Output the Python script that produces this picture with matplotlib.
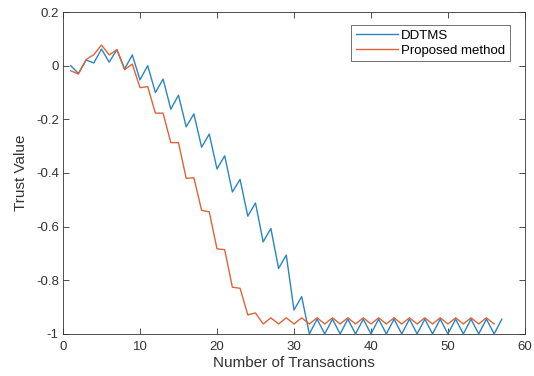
import numpy as np
import matplotlib
matplotlib.use("Agg")
import matplotlib.pyplot as plt

plt.rcParams['font.family'] = ['Liberation Sans', 'DejaVu Sans']

# ---------------- data ----------------
x_ddtms = np.arange(1, 58)
y_ddtms_head = [0, -0.029, 0.021, 0.01, 0.062, 0.013, 0.06, -0.012, 0.04, -0.053,
                0, -0.1, -0.05, -0.162, -0.11, -0.228, -0.18, -0.304, -0.255, -0.385,
                -0.336, -0.471, -0.424, -0.561, -0.512, -0.657, -0.607, -0.756, -0.706, -0.911,
                -0.861]
# from x=32 on: alternates between -1 (even x) and -0.945 (odd x)
y_ddtms_tail = [-1, -0.945, -1, -0.945, -1, -0.945, -1, -0.945, -1, -0.945,
                -1, -0.945, -1, -0.945, -1, -0.945, -1, -0.945, -1, -0.945,
                -1, -0.945, -1, -0.945, -1, -0.945]
y_ddtms = np.array(y_ddtms_head + y_ddtms_tail)

x_prop = np.arange(1, 57)
y_prop_head = [-0.019, -0.031, 0.023, 0.041, 0.077, 0.04, 0.06, -0.015, 0.006, -0.082,
               -0.078, -0.177, -0.177, -0.287, -0.287, -0.42, -0.418, -0.539, -0.545, -0.683,
               -0.686, -0.826, -0.83, -0.929, -0.922]
# from x=26 on: alternates between -0.963 (even x) and -0.94 (odd x)
y_prop_tail = [-0.963, -0.94, -0.963, -0.94, -0.963, -0.94, -0.963, -0.94, -0.963, -0.94,
               -0.963, -0.94, -0.963, -0.94, -0.963, -0.94, -0.963, -0.94, -0.963, -0.94,
               -0.963, -0.94, -0.963, -0.94, -0.963, -0.94, -0.963, -0.94, -0.963, -0.94,
               -0.963]
y_prop = np.array(y_prop_head + y_prop_tail)

# ---------------- plot ----------------
fig = plt.figure(figsize=(5.34, 3.76), dpi=100)
ax = fig.add_axes([0.118, 0.112, 0.865, 0.856])

ax.plot(x_ddtms, y_ddtms, color='#2A84C6', lw=1.0, label='DDTMS')
ax.plot(x_prop, y_prop, color='#DE6436', lw=1.0, label='Proposed method')

ax.set_xlim(0, 60)
ax.set_ylim(-1, 0.2)
ax.set_xticks(np.arange(0, 61, 10))
ax.set_yticks([-1, -0.8, -0.6, -0.4, -0.2, 0, 0.2])
ax.set_yticklabels(['-1', '-0.8', '-0.6', '-0.4', '-0.2', '0', '0.2'])

ax.tick_params(direction='in', length=4, width=0.6, colors='#333333',
               labelsize=9.5, top=True, right=True)
ax.tick_params(axis='x', pad=5)
ax.tick_params(axis='y', pad=3)
for s in ax.spines.values():
    s.set_color('#333333')
    s.set_linewidth(0.6)

ax.set_xlabel('Number of Transactions', fontsize=11, color='#333333', labelpad=2)
ax.set_ylabel('Trust Value', fontsize=11, color='#333333', labelpad=6)

leg = ax.legend(loc='upper right', fontsize=9.5, frameon=True, fancybox=False,
                edgecolor='#333333', handlelength=3.2, handletextpad=0.25,
                borderpad=0.35, labelspacing=0.2, borderaxespad=0,
                bbox_to_anchor=(0.9675, 0.96))
leg.get_frame().set_linewidth(0.6)

fig.savefig('out.png', dpi=100)
